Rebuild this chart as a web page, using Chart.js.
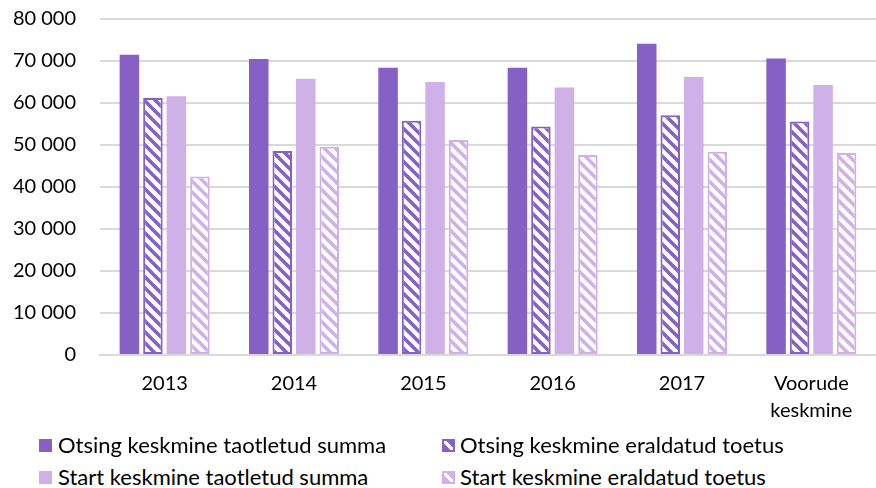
<!DOCTYPE html>
<html>
<head>
<meta charset="utf-8">
<script src="https://cdn.jsdelivr.net/npm/chart.js@4/dist/chart.umd.min.js"></script>
<style>
  html, body { margin: 0; padding: 0; background: #fff; }
  body { width: 876px; height: 488px; position: relative; overflow: hidden; font-family: Lato, "Noto Sans", sans-serif; }
  #wrap { position: absolute; left: 0; top: 0; width: 876px; height: 443px; }
  .leg { position: absolute; font-size: 22px; color: #000; line-height: 26px; white-space: nowrap; }
  .leg .box { position: absolute; top: 7px; width: 13px; height: 13px; box-sizing: border-box; }
</style>
</head>
<body>
<div id="wrap"><canvas id="c"></canvas></div>
<div id="legend"></div>
<script>
const categories = ['2013', '2014', '2015', '2016', '2017', ['Voorude', 'keskmine']];
const otsingTaotletud = [71500, 70500, 68400, 68400, 74100, 70600];
const otsingEraldatud = [61200, 48600, 55800, 54400, 57100, 55600];
const startTaotletud  = [61600, 65800, 65000, 63700, 66200, 64300];
const startEraldatud  = [42500, 49600, 51200, 47600, 48400, 48100];
const seriesNames = [
  'Otsing keskmine taotletud summa',
  'Otsing keskmine eraldatud toetus',
  'Start keskmine taotletud summa',
  'Start keskmine eraldatud toetus'
];

const DARK = '#8561c5';
const LIGHT = '#cfb1e7';

function hatch(color) {
  const s = 11;
  const cv = document.createElement('canvas');
  cv.width = s; cv.height = s;
  const g = cv.getContext('2d');
  g.fillStyle = '#fff';
  g.fillRect(0, 0, s, s);
  g.strokeStyle = color;
  g.lineWidth = 3.6;
  for (const o of [-s, 0, s]) {
    g.beginPath();
    g.moveTo(o - 2, -2);
    g.lineTo(o + s + 2, s + 2);
    g.stroke();
  }
  return g.createPattern(cv, 'repeat');
}

const ctx = document.getElementById('c').getContext('2d');
const fontFamily = 'Lato, "Noto Sans", sans-serif';

new Chart(ctx, {
  type: 'bar',
  data: {
    labels: categories,
    datasets: [
      { label: seriesNames[0], data: otsingTaotletud, backgroundColor: DARK, borderWidth: 0 },
      { label: seriesNames[1], data: otsingEraldatud, backgroundColor: hatch(DARK), borderColor: DARK, borderWidth: 2, borderSkipped: false },
      { label: seriesNames[2], data: startTaotletud, backgroundColor: LIGHT, borderWidth: 0 },
      { label: seriesNames[3], data: startEraldatud, backgroundColor: hatch(LIGHT), borderColor: LIGHT, borderWidth: 2, borderSkipped: false }
    ]
  },
  options: {
    responsive: true,
    maintainAspectRatio: false,
    animation: false,
    categoryPercentage: 0.727,
    barPercentage: 0.83,
    layout: { padding: { top: 19, right: 0, bottom: 4, left: 0 } },
    plugins: { legend: { display: false }, tooltip: { enabled: false } },
    scales: {
      x: {
        grid: { display: false, drawTicks: false },
        border: { display: true, color: '#d9d9d9', width: 2 },
        ticks: { color: '#000', font: { family: fontFamily, size: 20, lineHeight: 1.35 }, padding: 15, maxRotation: 0, autoSkip: false }
      },
      y: {
        min: 0, max: 80000,
        afterFit: (s) => { s.width = 100; s.paddingTop = 0; s.paddingBottom = 0; },
        grid: { color: '#d9d9d9', lineWidth: 2, drawTicks: false },
        border: { display: false },
        ticks: {
          stepSize: 10000,
          color: '#000',
          padding: 24,
          font: { family: fontFamily, size: 20 },
          callback: (v) => String(v).replace(/\B(?=(\d{3})+(?!\d))/g, ' ')
        }
      }
    }
  }
});

// HTML legend (two columns)
const legendPos = [
  { left: 58, top: 432, box: -19 }, { left: 460, top: 432, box: -18 },
  { left: 58, top: 464, box: -19 }, { left: 460, top: 464, box: -18 }
];
const legendStyles = [
  'background:' + DARK,
  'border:2px solid ' + DARK + ';background:linear-gradient(45deg,' + DARK + ' 0 38%,#fff 38% 62%,' + DARK + ' 62%)',
  'background:' + LIGHT,
  'border:2px solid ' + LIGHT + ';background:linear-gradient(45deg,' + LIGHT + ' 0 38%,#fff 38% 62%,' + LIGHT + ' 62%)'
];
const legendEl = document.getElementById('legend');
seriesNames.forEach((n, i) => {
  const d = document.createElement('div');
  d.className = 'leg';
  d.style.left = legendPos[i].left + 'px';
  d.style.top = legendPos[i].top + 'px';
  const b = document.createElement('span');
  b.className = 'box';
  b.setAttribute('style', legendStyles[i] + ';left:' + legendPos[i].box + 'px');
  d.appendChild(b);
  d.appendChild(document.createTextNode(n));
  legendEl.appendChild(d);
});
</script>
</body>
</html>
